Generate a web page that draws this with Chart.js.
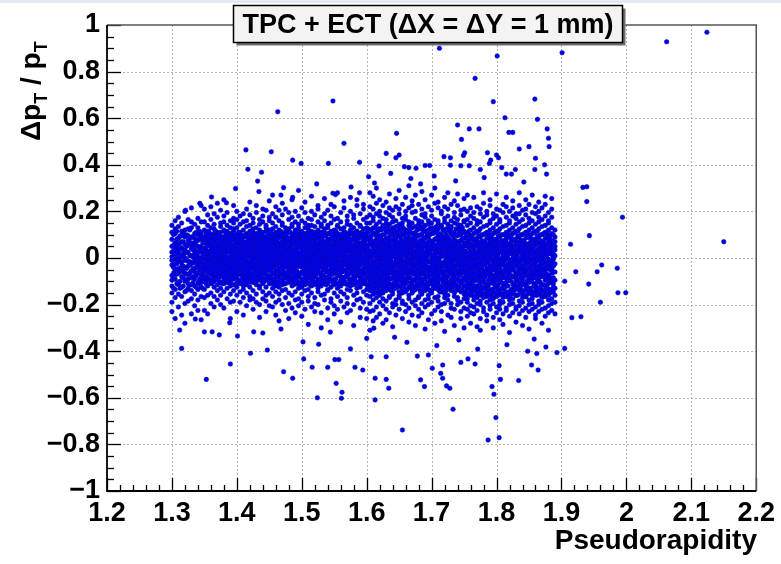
<!DOCTYPE html>
<html>
<head>
<meta charset="utf-8">
<title>TPC + ECT momentum resolution</title>
<script src="https://cdn.jsdelivr.net/npm/chart.js@4.4.1/dist/chart.umd.min.js"></script>
<style>
  html, body { margin: 0; padding: 0; background: #ffffff; }
  #wrap { width: 781px; height: 564px; position: relative; }
  canvas { display: block; }
</style>
</head>
<body>
<div id="wrap"><canvas id="chart" width="781" height="564"></canvas></div>
<script>
// Axis ticks
const xTickValues = [1.2, 1.3, 1.4, 1.5, 1.6, 1.7, 1.8, 1.9, 2.0, 2.1, 2.2];
const yTickValues = [-1, -0.8, -0.6, -0.4, -0.2, 0, 0.2, 0.4, 0.6, 0.8, 1];

// Tracks in the band: each row is [pseudorapidity, dpT/pT in percent ...]
const bandA = [
  [1.300, 8,2.5,-3,-7.5,-12,-1,5,11,-15,-19,0.5,-9.5,14,-23],
  [1.305, 10.5,4,-0.5,-5,-9,-13.5,6.5,1.5,-2.5,-17,-26,12.5,-7],
  [1.310, 6,3,-4.5,-10.5,-15.5,8.5,-1.5,-6.5,13.5,-21,-11.5,17.5,0],
  [1.315, 11.5,7,-2,-5.5,-8,-12.5,1,4.5,-16.5,-24.5,15,-3.5,9.5],
  [1.320, 12,9,3.5,-4,-6.5,-10,-14.5,0,6,-1,-19.5,20,-28,2],
  [1.325, 9.5,5.5,-1.5,-7,-11,2.5,7.5,-3.5,-13,-18.5,16.5,-9,12.5],
  [1.330, 13,6.5,1,-2.5,-8.5,-14,4,-5.5,9,-17.5,21.5,-24,-11.5,15.5],
  [1.335, 8.5,3.5,-2,-6,-12,2,10.5,-4.5,-15.5,14.5,-20.5,-0.5,-9,6.5],
  [1.340, 10,7.5,2.5,-3,-10.5,-6.5,5,-1,13,-13.5,-18,17,-22.5,0.5],
  [1.345, 11,5,0,-4,-8.5,3,8,-7,-12.5,-2,15.5,-16.5,-26.5,9.5,22.5,-10.5]
];
const bandB = [
  [1.350, 9,6.5,4,1.5,-0.5,-2.5,-5,-7.5,-9,8,2.5,-4,-10,12,-13.5,15.5,-17,21,-22.5,3],
  [1.355, 10,7,3,0.5,-1.5,-3.5,-6,-8.5,5.5,9.5,-2,-9.5,11.5,-12,14,-16,18.5,-24,1,-5],
  [1.360, 8.5,5,2,-1,-3,-4.5,-7,-9.5,6,10,0,3.5,-11,13,-15,16.5,-19.5,22,-6.5,7.5],
  [1.365, 10.5,7.5,4.5,1,-2,-4,-6.5,-8,-10,2.5,6,-1,12.5,-12.5,14.5,-16.5,-21,19,8.5,-5.5],
  [1.370, 9.5,6,3.5,0,-1,-3.5,-5.5,-7,-9,1.5,8,4.5,-11.5,11,-14,17.5,-18,23.5,-2.5,5],
  [1.375, 11,8.5,5,2,-0.5,-2.5,-4.5,-8,-10.5,3,6.5,0.5,13.5,-13,-16,15,-20,20.5,-6,9],
  [1.380, 7.5,4,1,-1.5,-3,-5,-7.5,-9.5,9,2,5.5,-0.5,12,-11,15.5,-14.5,18,-21.5,25,-6],
  [1.385, 10,7,4,2.5,-1,-2,-5.5,-6.5,-8.5,0,5,-3.5,11.5,-10.5,14,-13,-17.5,19.5,8.5,-9.5],
  [1.390, 9,6.5,2.5,0.5,-2,-4,-6,-8,-10,3.5,7.5,-1.5,10.5,-12,13,-15.5,16,-19,-26,4.5],
  [1.395, 11.5,8,5.5,1.5,-0.5,-3,-5,-7,-9,3,9.5,-1.5,12.5,-11.5,15,-14,17,-18.5,22.5,-4.5],
  [1.400, 8.5,6,3.5,0,-1.5,-3.5,-6.5,-8.5,-10.5,2,5,10,-2.5,13,-12.5,16.5,-16,20,-23,-5],
  [1.405, 10,7.5,4,1,-0.5,-2.5,-5,-7,-9.5,2.5,6,8.5,-3.5,11,-11,14.5,-14.5,-19,18,-1],
  [1.410, 9,5.5,2,-1,-2.5,-4.5,-6,-8,-10,3.5,7,0.5,12,-12,15.5,-13.5,19,-17,-24.5,4.5],
  [1.415, 10.5,7,4.5,1.5,-1,-3,-5.5,-7.5,-9,2.5,5.5,9,-2,13.5,-11.5,16,-15,21,-20.5,-6],
  [1.420, 8,6,3,0.5,-1.5,-4,-6.5,-8.5,-10.5,1.5,4.5,9.5,-2.5,11.5,-12.5,14,-16.5,18.5,-18,24],
  [1.425, 11,8,5,2,-0.5,-2,-4.5,-7,-9,3.5,6.5,-3.5,12.5,-10.5,15,-14,-17.5,17,-22,0],
  [1.430, 9.5,6.5,2.5,0,-2,-3.5,-5.5,-8,-10,1,4,8,-1,10.5,-11.5,13,-15.5,19.5,-19,22.5],
  [1.435, 10,7.5,4,1.5,-1,-3,-6,-7.5,-9.5,2.5,5,-4.5,12,-12,14.5,-13,16.5,-20,-25.5,8.5],
  [1.440, 8.5,5,2,-0.5,-2.5,-4.5,-6.5,-8.5,-10.5,3,6,9.5,0.5,11,-11,15.5,-14.5,18,-17.5,21],
  [1.445, 11.5,7,4.5,1,-1.5,-3.5,-5,-7,-9,2,5.5,8.5,-2,13,-12.5,14,-16,20.5,-18.5,-23],
  [1.450, 9,6,3.5,0.5,-1,-2.5,-5.5,-8,-10,2.5,7,-4,12,-11,16,-15,17.5,-20.5,24.5,-1.5]
];
const bandC = [
  [1.455, 10,7.5,4,1,-1.5,-4,-6.5,-9,-11,2.5,5.5,8.5,-2.5,12.5,-13,15,-16.5,19,-21,27],
  [1.460, 11,8,5.5,2,-0.5,-3,-5.5,-7.5,-10,3.5,9.5,0,-12,13.5,-14.5,17.5,-19,22,-24.5,6.5],
  [1.465, 9,6,3,0.5,-2,-4.5,-6,-8.5,-10.5,1.5,4.5,10.5,-1,12,-12.5,16,-15.5,20.5,-18,-27],
  [1.470, 10.5,7,4.5,1.5,-1,-3.5,-5,-7,-9.5,2.5,6,8.5,-2.5,14,-11.5,15,-14,18.5,-20,23.5],
  [1.475, 8.5,6.5,3.5,0,-1.5,-4,-6.5,-8,-11,2,5,10,-3,11.5,-13.5,13,-17,21,-22.5,-0.5],
  [1.480, 11.5,8.5,5,2.5,-0.5,-2.5,-5.5,-7.5,-9,1,4,7,-1.5,12.5,-10.5,16.5,-15,19.5,-19.5,-26],
  [1.485, 10,7,3,0.5,-2,-4.5,-6,-8.5,-10,2,5.5,9,-3.5,13.5,-12,14.5,-16,17.5,-21.5,25],
  [1.490, 9.5,6,4,1,-1,-3,-5,-7,-9.5,3,7.5,11,-2,12,-11,15.5,-14.5,-18,20,-23.5],
  [1.495, 11,8,5.5,2,-0.5,-3.5,-6.5,-8,-11.5,1.5,4.5,9.5,-1.5,14.5,-13,13,-17.5,18,-20.5,29],
  [1.500, 8,5.5,2.5,0,-2.5,-4,-6,-9,-10.5,3.5,6.5,10,-3,11.5,-12.5,16,-15.5,21.5,-19,-25],
  [1.505, 10.5,7.5,4.5,1.5,-1,-2.5,-5.5,-7.5,-9.5,2.5,5,8.5,-1.5,13,-11.5,15,-14,19.5,-22,24],
  [1.510, 9,6.5,3.5,0.5,-1.5,-4.5,-6.5,-8.5,-11,1,4,11,-3.5,12.5,-13.5,14,-16.5,17,-18.5,-28.5],
  [1.515, 11.5,8,5,2,-0.5,-3,-5,-7,-10,3,6,9.5,-2,14,-12,16.5,-15,20,-21,26.5],
  [1.520, 10,7,4,1,-2,-4,-6,-8,-10.5,2,5.5,8,-1,11,-11.5,13.5,-17,18.5,-19.5,-23],
  [1.525, 8.5,6,3,-0.5,-1,-3.5,-5.5,-9,-11.5,1.5,4.5,10.5,-2.5,12,-13,15.5,-14.5,21,-20,22.5],
  [1.530, 11,8.5,5.5,2.5,0,-2.5,-6.5,-7.5,-9.5,3.5,7,9,-1.5,13.5,-12,14.5,-16,17.5,-23.5,-30],
  [1.535, 9.5,6.5,3.5,1,-1.5,-4,-5,-8,-10,2,5,11,-3,12.5,-11,16,-15.5,19,-18,25.5],
  [1.540, 10.5,7.5,4,1.5,-0.5,-3,-6,-8.5,-11,2.5,6,8,-2,14,-13.5,13,-14,20.5,-21.5,-26.5],
  [1.545, 8,5.5,2.5,0,-2,-4.5,-6.5,-7,-9.5,3,4.5,10,-1,11.5,-12.5,15,-17.5,18,-19,23],
  [1.550, 11.5,8,5,2,-1,-3.5,-5.5,-9,-10.5,1.5,6.5,9.5,-2.5,12,-11.5,16.5,-15,22,-20.5,-24],
  [1.555, 9,7,4.5,1,-1.5,-2.5,-5,-7.5,-11,3.5,5.5,10.5,-3.5,13.5,-13,14,-16.5,17,-22,28],
  [1.560, 10,6,3,0.5,-0.5,-4,-6,-8,-9.5,2,7.5,8.5,-1.5,12.5,-12,15.5,-14.5,19.5,-18.5,-27.5],
  [1.565, 11,8.5,5.5,2.5,-1,-3,-5.5,-8.5,-10,1,4,9,-2,11,-11,13,-15.5,21.5,-21,24.5],
  [1.570, 8.5,6.5,3.5,0,-2,-4.5,-6.5,-7,-11.5,3,5,10,-3,14.5,-13.5,16,-17,18,-19.5,-23.5],
  [1.575, 10.5,7,4,1.5,-0.5,-3.5,-5,-9,-10.5,2.5,6,11.5,-1,12,-12,14,-14,20,-22.5,26],
  [1.580, 9.5,5.5,2.5,0.5,-1.5,-2.5,-6,-8,-9,1.5,4.5,8,-3.5,13,-11.5,17,-16,18.5,-20,-29],
  [1.585, 11.5,8,5,2,-1,-4,-5.5,-7.5,-11,3,7,9.5,-2.5,11.5,-13,15,-15,22.5,-18,25],
  [1.590, 9,6.5,3,1,-0.5,-3,-6.5,-8.5,-10,2,5.5,10.5,-1.5,14,-12.5,13.5,-17.5,19,-21.5,-25.5],
  [1.595, 10,7.5,4.5,0,-2,-4.5,-5,-7,-9.5,3.5,6,8.5,-2,12.5,-11,16.5,-14.5,21,-19,23],
  [1.600, 11,8.5,5.5,2.5,-1,-3.5,-6,-8,-11.5,1,4,9,-3,13,-13.5,15,-16,17.5,-22,-26]
];
const bandD = [
  [1.605, 12,9,6,3,0.5,-2,-4.5,-7,-9.5,-12,-14,1.5,7.5,-5.5,15,-16.5,18.5,-19.5,22,-23,28,-31],
  [1.610, 13,10.5,7,4.5,1,-1.5,-3.5,-6,-8.5,-11,-13.5,2.5,5.5,-2.5,16,-15.5,17.5,-18,21,-22.5,26.5,-27],
  [1.615, 11,8,5,2,-0.5,-3,-5,-8,-10,-12.5,3.5,9.5,-6.5,14.5,-15,19,-17,23.5,-21,-25.5,30],
  [1.620, 12.5,9.5,6.5,3.5,0,-2,-4,-7.5,-9,-11.5,-14.5,1,4.5,-5.5,15.5,-16,18,-19,20,-24,25],
  [1.625, 13.5,10,7.5,4,1.5,-1,-3,-5.5,-8,-10.5,-13,2.5,6,-6.5,14,-15,17,-17.5,22.5,-20.5,-28],
  [1.630, 11.5,8.5,5.5,2.5,-0.5,-2.5,-4.5,-7,-9.5,-12,1,3.5,-1.5,16.5,-14,15,-18.5,19.5,-22,24,-26.5],
  [1.635, 12,9,6,3,0.5,-1.5,-5,-6.5,-9,-11,-13.5,2,7,-3.5,14.5,-16.5,18.5,-17,21.5,-23.5,27.5],
  [1.640, 13,10.5,7.5,4.5,1,-2,-3.5,-6,-8.5,-12.5,-14,3,5,-5,15.5,-15.5,17.5,-19.5,20.5,-21,-29.5],
  [1.645, 11,8,4.5,2,-1,-3,-5.5,-7.5,-10,-11.5,1.5,6.5,-2.5,13.5,-13,16,-18,22,-20,25.5,-24.5],
  [1.650, 12.5,9.5,6.5,3.5,0,-2.5,-4,-7,-9,-12,-14.5,2.5,5.5,-6,14.5,-16,19,-17,21,-22,29],
  [1.655, 13.5,10,7,4,1.5,-1,-3.5,-5.5,-8,-10.5,-13,3,6,-4.5,15,-15,17,-18.5,23,-19.5,-26],
  [1.660, 11.5,8.5,5,2.5,0.5,-2,-4.5,-6.5,-9.5,-11,-13.5,1,4,-3,16.5,-14.5,18,-20,20,-23,26],
  [1.665, 12,9,6,3,-0.5,-1.5,-5,-7.5,-8.5,-12.5,2,7.5,-6,14,-16,15.5,-17.5,21.5,-21.5,-27.5,31],
  [1.670, 13,10.5,7,4.5,1,-2.5,-3.5,-6,-10,-11.5,-14,3.5,5.5,-1,15,-15,19.5,-19,22.5,-24.5,24.5],
  [1.675, 11,8,5.5,2,0,-3,-4,-7,-9,-12,1.5,6.5,-5.5,13.5,-13.5,17,-18,20,-20.5,27,-29],
  [1.680, 12.5,9.5,6,3.5,1,-1,-5,-6.5,-8.5,-11,-13,2.5,4.5,-2.5,16,-16.5,14.5,-17,23,-22,-25],
  [1.685, 13.5,10,7.5,4,0.5,-2,-3.5,-5.5,-9.5,-10.5,-14.5,3,5,-6.5,15.5,-15.5,18.5,-19.5,21,-23.5,28.5],
  [1.690, 11.5,8.5,5,2.5,-0.5,-2.5,-4.5,-7.5,-9,-12.5,1,6,-3,14,-14,17.5,-18,19,-21,25,-30.5],
  [1.695, 12,9,6.5,3,1.5,-1.5,-5,-6,-8,-11.5,-13.5,2,7,-4,14.5,-16,16,-17.5,22,-20,-26.5],
  [1.700, 13,10.5,7,4.5,0,-2,-3,-7,-10,-11,-14,3.5,5.5,-5.5,15,-15,18,-19,20.5,-24,27],
  [1.705, 11,8,5.5,2,1,-3,-4.5,-6.5,-9.5,-12,1.5,4,-1.5,13,-13,16.5,-17,23.5,-22.5,-28,30],
  [1.710, 12.5,9.5,6,3.5,-0.5,-1,-5.5,-7.5,-8.5,-10.5,-13.5,2.5,7.5,-3.5,16,-16.5,15,-18.5,21.5,-21,24],
  [1.715, 13.5,10,7.5,4,0.5,-2.5,-4,-6,-9,-12.5,-14.5,3,5,-6,14,-14.5,19,-20,20,-23,-27],
  [1.720, 11.5,8.5,5,2.5,1.5,-1.5,-3.5,-7,-10,-11.5,1,6.5,-2,15.5,-15.5,17,-17,22,-19.5,26,-31.5],
  [1.725, 12,9,6.5,3,0,-2,-5,-5.5,-8,-11,-13,2,4.5,-4.5,14.5,-16,18,-18,21,-24.5,28],
  [1.730, 13,10.5,7,4.5,1,-3,-4.5,-6.5,-9.5,-12,-14,3.5,6,-1,13.5,-13.5,16,-19.5,23,-21.5,-25.5],
  [1.735, 11,8,5.5,2,-0.5,-1,-3.5,-7.5,-8.5,-10.5,1.5,5,-6.5,15,-15,17.5,-16.5,19.5,-22,24.5,-29],
  [1.740, 12.5,9.5,6,3.5,0.5,-2.5,-5.5,-6,-9,-12.5,-13.5,2.5,7,-3,16.5,-17,14.5,-18,22.5,-20,27.5],
  [1.745, 13.5,10,7.5,4,1.5,-1.5,-4,-7,-10,-11,-14.5,3,4.5,-5,14,-14,18.5,-19,20.5,-23,-26],
  [1.750, 11.5,8.5,5,2.5,0,-2,-3,-5.5,-8.5,-12,1,6.5,-4,15.5,-15.5,16,-17.5,21,-21.5,25.5,-30]
];
const bandE = [
  [1.755, 11,8,5,2,-0.5,-3,-5.5,-8,-10.5,-13,-15.5,1,6.5,-7,14,-17.5,16.5,-19,-22,20,-25,27],
  [1.760, 12,9.5,6,3.5,0.5,-2,-4.5,-7,-9,-11.5,-14,2.5,4.5,-6,15,-16,18,-20.5,-23.5,21.5,-28],
  [1.765, 10.5,7.5,4,1.5,-1.5,-3.5,-6.5,-8.5,-12,-13.5,-16.5,3,5.5,-10,13,-18,17,-21,19.5,-24,26],
  [1.770, 11.5,8.5,5.5,2.5,0,-2.5,-5,-7.5,-9.5,-12.5,-15,1.5,7,-4,14.5,-17,16,-19.5,-22.5,22,-29.5],
  [1.775, 12.5,9,6.5,3,-1,-4,-6,-8,-11,-14.5,-16,2,4,-2,15.5,-18.5,19,-20,21,-26,-31],
  [1.780, 10,7,4.5,1,-0.5,-3,-5.5,-9,-10,-13,-15.5,3.5,6,-7.5,13.5,-17,17.5,-21.5,-23,23.5,28],
  [1.785, 11,8.5,5,2.5,-1.5,-2,-4.5,-7,-11.5,-12,-14.5,1,5.5,-6,14,-16.5,18.5,-19,20,-24.5,-27],
  [1.790, 12,9.5,6,3.5,0.5,-3.5,-6.5,-8.5,-10.5,-14,-16,2,7.5,-5,15,-18,16,-20.5,-22,22.5,25],
  [1.795, 10.5,7.5,4,1.5,-1,-2.5,-5,-7.5,-9,-13.5,-15,3,5,-11,13,-17.5,17,-19.5,19,-25.5,-30],
  [1.800, 11.5,8,5.5,2,0,-4,-6,-8,-12,-12.5,-16.5,1.5,6.5,-3,14.5,-16,18,-21,-23.5,21,27.5],
  [1.805, 12.5,9,6.5,3,-0.5,-3,-4.5,-9.5,-10,-14,-15.5,2.5,4.5,-7,15.5,-18.5,16.5,-20,20.5,-22,-26.5],
  [1.810, 10,7,4.5,1,-1.5,-2,-5.5,-7,-11,-13,-16,3.5,6,-8.5,13.5,-17,19.5,-19,-24,23,-28.5],
  [1.815, 11,8.5,5,2.5,0.5,-3.5,-6,-8.5,-10.5,-12,-14.5,1,7,-4.5,14,-16.5,17.5,-21.5,22,-22.5,26],
  [1.820, 12,9.5,6,3.5,-1,-2.5,-4,-7.5,-9.5,-14.5,-16.5,2,5.5,-6,15,-18,16,-20,-25,20,-32],
  [1.825, 10.5,7.5,4,1.5,0,-4,-5,-8,-11.5,-13.5,-15,3,4,-2,13,-17.5,18,-19.5,21.5,-23.5,24.5],
  [1.830, 11.5,8,5.5,2,-0.5,-3,-6.5,-9,-10,-12.5,-16,1.5,6.5,-7.5,14.5,-16,17,-21,-22,19,-27.5],
  [1.835, 12.5,9,6.5,3,-1.5,-2,-5.5,-7,-12,-13,-14,2.5,5,-4,15.5,-18.5,19,-20.5,22.5,-24,28],
  [1.840, 10,7,4.5,1,0.5,-3.5,-4.5,-8.5,-9.5,-14,-15.5,3.5,7.5,-6.5,13.5,-17,16.5,-19,-22.5,20.5,-29],
  [1.845, 11,8.5,5,2.5,-1,-2.5,-6,-7.5,-11,-12,-16.5,1,4.5,-5,14,-16.5,18.5,-21.5,21,-25.5,25],
  [1.850, 12,9.5,6,3.5,0,-4,-5,-9,-10.5,-13.5,-15,2,6,-7,15,-18,17,-20,-23,23,-30.5],
  [1.855, 10.5,7.5,4,1.5,-0.5,-3,-6.5,-8,-9,-14.5,-16,3,5.5,-3,13,-17.5,16,-19.5,19.5,-22,27],
  [1.860, 11.5,8,5.5,2,-1.5,-2,-4.5,-7,-12,-12.5,-14.5,1.5,7,-5.5,14.5,-16,19,-21,-24.5,22,-26],
  [1.865, 12.5,9,6.5,3,0.5,-3.5,-5.5,-9.5,-10,-13,-15.5,2.5,4,-8,15.5,-18.5,17.5,-20,20,-23,24],
  [1.870, 10,7,4.5,1,-1,-2.5,-6,-8,-11.5,-14,-16.5,3.5,6.5,-4.5,13.5,-17,16.5,-19,-22,21.5,-28],
  [1.875, 11,8.5,5,2.5,0,-4,-5,-7.5,-9.5,-12,-15,1,5,-6,14,-16.5,18,-21.5,23,-25,26.5],
  [1.880, 12,9.5,6,3.5,-0.5,-3,-4.5,-8.5,-11,-13.5,-16,2,7.5,-7.5,15,-18,16,-20.5,-23.5,19.5,-31],
  [1.885, 10.5,7.5,4,1.5,-1.5,-2,-6.5,-9,-10.5,-14.5,-14,3,5.5,-5,13,-17.5,17.5,-19.5,21,-22.5,25.5],
  [1.890, 9,5,1,-2.5,-6,-9.5,-13,3.5,-16,12,-19,-24,7]
];

// Additional tracks in the band core, between the rows above
const coreA = [
  [1.3025, 5.5,0,-4,-9,10,-13,3,-6.5],
  [1.3075, 8,2,-2.5,-7,-11,4.5,-0.5,11.5],
  [1.3125, 9.5,4,-1,-5.5,-10,1.5,-13,6.5],
  [1.3175, 7,0.5,-3.5,-8.5,3,-12,10.5,-6],
  [1.3225, 10,5,-0.5,-4.5,-9.5,2.5,-7,-14],
  [1.3275, 6,1,-3,-6.5,-11.5,8.5,-1.5,12],
  [1.3325, 9,3.5,-2,-8,-10.5,0.5,5,-4.5],
  [1.3375, 11,5.5,1.5,-4,-7.5,-12.5,7.5,-1],
  [1.3425, 8.5,2.5,-1.5,-5,-9,4,-11,11.5],
  [1.3475, 6.5,1,-3,-6,-10,9,3.5,-13]
];
const coreB = [
  [1.3525, 8,4.5,0.5,-2,-5.5,-8,10.5,2,-3.5,6.5,-11],
  [1.3575, 9,5.5,2.5,-0.5,-4,-6.5,-9.5,7,0,-2.5,11],
  [1.3625, 7,3,0,-2.5,-5,-8.5,9.5,5,-1.5,-10.5,1.5],
  [1.3675, 8.5,4.5,1.5,-1,-3.5,-7,-9,6,3,-5.5,11.5],
  [1.3725, 10,5.5,2,-1.5,-4.5,-6,-10,7.5,0.5,-2.5,-8],
  [1.3775, 6.5,3.5,0,-3,-5.5,-7.5,9,2,-1,4.5,-11],
  [1.3825, 9.5,5,2.5,-0.5,-4,-6.5,-8.5,7,1,-2,11],
  [1.3875, 8,3,0.5,-2.5,-5,-7.5,-10.5,6,4.5,-1,10],
  [1.3925, 10.5,5.5,1.5,-1.5,-4.5,-6,-9,8,3.5,-3,-11.5],
  [1.3975, 7,4,0,-2,-5.5,-8,9.5,2.5,-1,-3.5,5.5],
  [1.4025, 9,5,2,-1,-4,-6.5,-10,7.5,0.5,-2.5,11],
  [1.4075, 8,3.5,0.5,-3,-5,-7.5,9.5,6,1.5,-1.5,-9.5],
  [1.4125, 10,6,2.5,-0.5,-4.5,-6,-8.5,4,0,-2.5,-11],
  [1.4175, 7.5,4.5,1,-2,-3.5,-7,-10,9,3,-5.5,5.5],
  [1.4225, 9.5,5,2,-1.5,-5,-8,7,0.5,-3,-9.5,11.5],
  [1.4275, 8.5,3.5,0,-2.5,-4,-6.5,-10.5,6,2.5,-1,10],
  [1.4325, 10.5,6,1.5,-0.5,-5.5,-7,-9,4.5,3,-3,8],
  [1.4375, 7,4,0.5,-2,-4.5,-8.5,9,2,-1,-6,11],
  [1.4425, 9,5.5,2.5,-1,-3.5,-6.5,-10,7.5,0,-5,3.5],
  [1.4475, 8,3,1,-2.5,-4.5,-7.5,10,5,-1,-9,6]
];
const coreC = [
  [1.4525, 9,6,2.5,0,-2.5,-5,-7.5,-10,11,4,-1,-3.5],
  [1.4575, 10,7,3.5,1,-1.5,-4,-6.5,-9,5,-0.5,-11,8.5],
  [1.4625, 8,5,1.5,-1,-3,-5.5,-8,-10.5,10.5,3,0,6.5],
  [1.4675, 9.5,6.5,4,0.5,-2,-4.5,-7,-9.5,2,-1.5,11.5,-6],
  [1.4725, 7.5,4.5,2,-0.5,-3.5,-6,-8.5,-11,10,5.5,1,-2],
  [1.4775, 10.5,7.5,3,0,-1.5,-4,-6.5,-9,5,1.5,-3,8.5],
  [1.4825, 8.5,5.5,2.5,-1,-2.5,-5,-7.5,-10,11,4,0.5,-4.5],
  [1.4875, 9,6,3.5,0.5,-2,-4.5,-6,-8.5,-11.5,2,-1,7.5],
  [1.4925, 10,7,1.5,-0.5,-3,-5.5,-8,-9.5,4.5,3,11.5,-6.5],
  [1.4975, 7,5,2,0,-1.5,-3.5,-7,-10.5,9.5,6,-2.5,1],
  [1.5025, 9.5,6.5,4,1,-2,-4,-6.5,-9,-11,2.5,-0.5,8],
  [1.5075, 8,4.5,2.5,-0.5,-3,-5,-7.5,-10,10.5,6,0.5,-1.5],
  [1.5125, 10.5,7.5,3.5,0,-1,-4.5,-6,-8.5,5,1.5,-2.5,-11.5],
  [1.5175, 8.5,5.5,1.5,-1.5,-2.5,-5.5,-8,-9.5,11,3,0.5,7],
  [1.5225, 9,6,3,0.5,-2,-3.5,-7,-10.5,4.5,-0.5,10,-5],
  [1.5275, 10,7,4.5,1,-1,-4,-6.5,-9,2,-3,8,-11],
  [1.5325, 7.5,5,2,-0.5,-2.5,-5,-7.5,-10,9.5,3.5,0,11],
  [1.5375, 9.5,6.5,3.5,0,-1.5,-4.5,-6,-8.5,5.5,1.5,-3,-11.5],
  [1.5425, 8,4.5,1,-1,-3,-5.5,-8,-9.5,10.5,6,2.5,-6.5],
  [1.5475, 10.5,7.5,3,0.5,-2,-3.5,-7,-10.5,5,-0.5,1.5,8.5],
  [1.5525, 8.5,5.5,2.5,-0.5,-2.5,-4,-6.5,-9,11.5,4,0,-5.5],
  [1.5575, 9,6,4,1,-1.5,-5,-7.5,-11,2.5,-3,10,7],
  [1.5625, 10,7,1.5,0,-3,-4.5,-6,-8.5,5,3.5,-1,-10],
  [1.5675, 7,4.5,2,-1,-2,-5.5,-8,-10.5,9,6,0.5,11],
  [1.5725, 9.5,6.5,3.5,0.5,-1.5,-3.5,-7,-9,4.5,-0.5,8,-11.5],
  [1.5775, 8,5,3,-0.5,-2.5,-5,-6.5,-10,10.5,1.5,0,-4],
  [1.5825, 10.5,7.5,4,1,-1,-4,-8,-9.5,2.5,6,-2.5,11],
  [1.5875, 8.5,5.5,1.5,0,-3,-4.5,-7,-10.5,9.5,3.5,-1.5,-6],
  [1.5925, 9,6,2.5,-1,-2,-5.5,-7.5,-8.5,11,4.5,0.5,-11],
  [1.5975, 10,7,4.5,0.5,-1.5,-3,-6,-9.5,5,2,-3.5,8]
];
const coreD = [
  [1.6025, 11,8,5,2,-1,-3.5,-6,-8.5,-11,-13,12.5,3.5,-4.5],
  [1.6075, 12,9.5,6.5,3,0,-2.5,-5,-7.5,-10,-12.5,1.5,-14,7.5],
  [1.6125, 10.5,7,4,1,-1.5,-4,-6.5,-9,-11.5,13,5.5,-2.5,-13.5],
  [1.6175, 11.5,8.5,5.5,2.5,-0.5,-3,-5.5,-8,-10.5,-13,0.5,6.5,12.5],
  [1.6225, 9.5,6,3.5,0.5,-2,-4.5,-7,-9.5,-12,12,1.5,-14.5,8],
  [1.6275, 12.5,10,7,4,1,-1,-3.5,-6,-8.5,-11,-13.5,2.5,5.5],
  [1.6325, 11,8,4.5,1.5,-0.5,-3,-5.5,-8,-10,-12.5,13.5,6,-2],
  [1.6375, 10,7.5,5,2,-1.5,-4,-6.5,-9,-11.5,-14,3.5,12,0],
  [1.6425, 12,9,6,3,0.5,-2.5,-5,-7,-10.5,-13,1,4.5,-8.5],
  [1.6475, 9.5,6.5,3.5,1,-1,-3.5,-6,-8.5,-11,11,5,-12.5,13.5],
  [1.6525, 11.5,8.5,5.5,2.5,-0.5,-2,-4.5,-7.5,-9.5,-12,-14.5,7,0.5],
  [1.6575, 12.5,10,7,4,1.5,-1.5,-4,-6.5,-9,-11.5,3,-13,5.5],
  [1.6625, 10.5,7,4.5,1.5,-1,-3,-5.5,-8,-10,-13.5,12,6,-2.5],
  [1.6675, 11,8,5,2.5,0,-2.5,-6,-8.5,-11,-12.5,13,3.5,-4.5],
  [1.6725, 9,6.5,3,0.5,-1.5,-4.5,-7,-9.5,-12,10.5,5.5,-14,1.5],
  [1.6775, 12,9.5,6.5,3.5,1,-2,-3.5,-6,-8.5,-10.5,-13,2,4.5],
  [1.6825, 10,7.5,4,1,-0.5,-3.5,-5,-7.5,-10,-12,12.5,5.5,-14.5],
  [1.6875, 11.5,8.5,5.5,2,-1,-2.5,-6.5,-9,-11.5,-13.5,0.5,7,13],
  [1.6925, 9.5,6,3.5,0,-2,-4,-5.5,-8,-10.5,11,1.5,-12.5,4.5],
  [1.6975, 12.5,10,7.5,4.5,1.5,-1.5,-4.5,-7,-9.5,-11,-14,2.5,6],
  [1.7025, 10.5,7,4,1,-0.5,-3,-5,-8.5,-10,-12.5,12,5.5,-2],
  [1.7075, 11,8.5,5,2.5,0,-2,-6,-7.5,-11,-13,13.5,3,-4],
  [1.7125, 9,6.5,3,0.5,-1.5,-4.5,-6.5,-9,-12,10.5,5,-14.5,1.5],
  [1.7175, 12,9,6,3.5,1,-2.5,-3.5,-5.5,-8,-10.5,-13.5,2,4.5],
  [1.7225, 10,7.5,4.5,1.5,-0.5,-3,-5.5,-8,-9.5,-12,12.5,6,-14],
  [1.7275, 11.5,8,5.5,2,-1,-4,-6,-7,-10.5,-13,0.5,7,13],
  [1.7325, 9.5,6,3.5,0,-2.5,-3.5,-5,-8.5,-11,11,1.5,-12.5,4],
  [1.7375, 12.5,10,7,4.5,1.5,-1,-4.5,-6.5,-9,-11.5,-14,3,5.5],
  [1.7425, 10.5,7,4,1,0,-3,-5.5,-7.5,-10,-12.5,12,6,-2],
  [1.7475, 11,8.5,5,2.5,-0.5,-2,-6,-9,-11,-13.5,13,3.5,-4.5]
];
const coreE = [
  [1.7525, 9,6,3,0.5,-2,-4.5,-7,-9.5,-12,-14.5,10.5,1.5,-16],
  [1.7575, 10,7.5,4.5,1.5,-1,-3.5,-6,-8.5,-11,-13,-15.5,5.5,11.5],
  [1.7625, 8,5,2,-0.5,-3,-5.5,-8,-10,-12.5,-15,9.5,3.5,-1.5],
  [1.7675, 11,8,5.5,2.5,0,-2,-4.5,-7,-9.5,-12,-14,6.5,-16.5],
  [1.7725, 9.5,6.5,3.5,1,-1.5,-4,-6.5,-9,-11.5,-13.5,11.5,4.5,-15],
  [1.7775, 7.5,5,2.5,-0.5,-2.5,-5,-7.5,-10,-12.5,-14.5,10,0.5,-3.5],
  [1.7825, 10.5,7,4,1.5,-1,-3,-6,-8,-11,-13,-16,5.5,2.5],
  [1.7875, 9,6,3,0,-2,-4.5,-7,-9.5,-12,-15,11,4.5,-14],
  [1.7925, 8,5.5,2,-1,-3.5,-5.5,-8.5,-10.5,-13.5,9.5,1,-16.5,6.5],
  [1.7975, 11,8,4.5,1.5,-0.5,-2.5,-5,-7.5,-10,-12.5,-15,3,5.5],
  [1.8025, 9.5,6.5,3.5,0.5,-1.5,-4,-6.5,-9,-11.5,-14,11.5,2,-16],
  [1.8075, 7.5,5,2.5,-0.5,-3,-5.5,-8,-10.5,-13,-15.5,10,4,-1.5],
  [1.8125, 10,7.5,4,1,-1,-3.5,-6,-8.5,-11,-12.5,-14.5,5.5,2.5],
  [1.8175, 9,6,3,0,-2.5,-4.5,-7,-9.5,-12,-15,11,1.5,-16.5],
  [1.8225, 8,5.5,2,-1,-3,-5,-7.5,-10,-13.5,9.5,4.5,-15.5,6.5],
  [1.8275, 11,8,5,1.5,-0.5,-2,-5.5,-8,-11,-12.5,-14,3,0.5],
  [1.8325, 9.5,6.5,3.5,0.5,-1.5,-4,-6.5,-9,-10.5,-13,-16,11.5,2],
  [1.8375, 7.5,5,2.5,-0.5,-3.5,-5.5,-8.5,-10.5,-12,-15,10,4,-1.5],
  [1.8425, 10.5,7,4,1,-1,-3,-6,-7.5,-11.5,-14,-16.5,5.5,2.5],
  [1.8475, 9,6,3,0,-2,-4.5,-7,-9.5,-12.5,-15.5,11,1.5,-13.5],
  [1.8525, 8,5.5,2,-1.5,-2.5,-5,-8,-10,-13,9.5,4.5,-15,6.5],
  [1.8575, 11,8,5,1.5,-0.5,-3.5,-5.5,-8.5,-11,-12,-14.5,3,0.5],
  [1.8625, 9.5,6.5,3.5,0.5,-1,-4,-6.5,-9,-10.5,-13.5,-16,11.5,2],
  [1.8675, 7.5,5,2.5,-0.5,-3,-5.5,-7.5,-10.5,-12.5,-15,10,4,-1.5],
  [1.8725, 10.5,7,4,1,-1.5,-2.5,-6,-8,-11.5,-14,-16.5,5.5,2.5],
  [1.8775, 9,6,3,0,-2,-4.5,-7,-9.5,-12,-15.5,11,1.5,-13],
  [1.8825, 8,5.5,2,-1,-3,-5,-8.5,-10,-13.5,9.5,4.5,-15,6.5],
  [1.8875, 10,7,4.5,1.5,-0.5,-3.5,-6,-8.5,-11,-12.5,-14.5,3,0.5]
];

// Isolated tracks away from the band: [pseudorapidity, dpT/pT]
const tailsHigh = [
  [1.463,0.628],[1.548,0.674],[1.414,0.464],[1.453,0.456],[1.565,0.492],[1.486,0.420],
  [1.499,0.406],[1.541,0.406],[1.589,0.411],[1.619,0.395],[1.630,0.449],[1.646,0.535],
  [1.645,0.430],[1.417,0.381],[1.438,0.368],[1.432,0.330],[1.434,0.285],[1.603,0.349],
  [1.637,0.363],[1.468,0.270],[1.486,0.260],[1.548,0.278],[1.552,0.272],[1.589,0.280],
  [1.343,0.235],[1.384,0.237],[1.321,0.205],[1.305,0.160],
  [1.712,0.900],[1.801,0.867],[1.901,0.881],[1.767,0.771],[1.795,0.671],[1.859,0.682],
  [1.813,0.602],[1.863,0.595],[1.740,0.571],[1.758,0.554],[1.773,0.554],[1.878,0.554],
  [1.819,0.539],[1.825,0.539],[1.880,0.514],[1.881,0.478],[1.746,0.509],[1.835,0.468],
  [1.850,0.478],[1.751,0.452],[1.749,0.440],[1.719,0.435],[1.729,0.430],[1.786,0.452],
  [1.800,0.442],[1.803,0.430],[1.791,0.420],[1.789,0.406],[1.650,0.442],[1.860,0.428],
  [1.658,0.392],[1.665,0.388],[1.676,0.385],[1.690,0.397],[1.697,0.397],[1.729,0.398],
  [1.745,0.396],[1.758,0.396],[1.775,0.380],[1.808,0.388],[1.815,0.360],[1.823,0.360],
  [1.829,0.380],[1.859,0.380],[1.877,0.360],[1.874,0.400],[1.933,0.303],[1.939,0.306],
  [1.939,0.242],[1.994,0.175],[1.943,0.096],[1.914,0.059],[2.150,0.070],[2.124,0.969],
  [2.062,0.928],
  [1.612,0.322],[1.668,0.341],[1.704,0.352],[1.737,0.331],[1.781,0.345],[1.842,0.326],
  [1.523,0.318],[1.576,0.305],[1.472,0.302],[1.398,0.298],[1.361,0.262],[1.683,0.318]
];
const tailsLow = [
  [1.962,-0.030],[1.955,-0.059],[1.922,-0.059],[1.986,-0.044],[1.942,-0.112],[1.987,-0.149],
  [1.999,-0.149],[1.905,-0.100],[1.916,-0.256],[1.930,-0.252],[1.905,-0.388],[1.893,-0.406],
  [1.960,-0.190],
  [1.655,-0.738],[1.733,-0.649],[1.787,-0.781],[1.804,-0.771],[1.799,-0.685],[1.796,-0.585],
  [1.793,-0.552],[1.806,-0.521],[1.834,-0.526],[1.683,-0.523],[1.689,-0.552],[1.714,-0.495],
  [1.717,-0.516],[1.723,-0.549],[1.728,-0.559],[1.701,-0.473],[1.717,-0.459],[1.745,-0.448],
  [1.756,-0.433],[1.767,-0.455],[1.804,-0.462],[1.854,-0.459],[1.864,-0.481],[1.678,-0.421],
  [1.695,-0.416],[1.848,-0.400],[1.862,-0.410],
  [1.353,-0.521],[1.315,-0.388],[1.312,-0.309],[1.390,-0.455],[1.421,-0.409],[1.472,-0.488],
  [1.486,-0.516],[1.524,-0.600],[1.561,-0.602],[1.562,-0.576],[1.553,-0.538],[1.613,-0.609],
  [1.613,-0.516],[1.630,-0.521],[1.634,-0.559],[1.516,-0.469],[1.540,-0.469],[1.582,-0.469],
  [1.594,-0.481],[1.503,-0.433],[1.551,-0.436],[1.557,-0.436],[1.607,-0.424],[1.630,-0.424],
  [1.447,-0.395],[1.350,-0.317],[1.362,-0.317],[1.373,-0.330],[1.401,-0.335],[1.426,-0.317],
  [1.440,-0.322],[1.502,-0.360],[1.526,-0.370],[1.575,-0.390],[1.600,-0.345],[1.643,-0.340],
  [1.662,-0.362],[1.708,-0.376],[1.742,-0.352],[1.771,-0.391],[1.816,-0.372],[1.858,-0.348],
  [1.876,-0.382],[1.611,-0.301],[1.544,-0.318],[1.468,-0.305],[1.389,-0.278],[1.336,-0.262]
];

// Build the point list for the scatter dataset
const points = [];
[bandA, bandB, bandC, bandD, bandE, coreA, coreB, coreC, coreD, coreE].forEach(band => {
  band.forEach(row => {
    const eta = row[0];
    for (let i = 1; i < row.length; i++) points.push({ x: eta, y: row[i] / 100 });
  });
});
tailsHigh.concat(tailsLow).forEach(p => points.push({ x: p[0], y: p[1] }));

const FONT = "'Liberation Sans', Arial, Helvetica, sans-serif";
const fmt = v => {
  const r = Math.round(v * 10) / 10;
  return (r < 0 ? '\u2212' : '') + String(Math.abs(r));
};

// Frame, grid, inward ticks, title box and axis titles in the ROOT style
const rootStyle = {
  id: 'rootStyle',
  beforeDraw(chart) {
    const ctx = chart.ctx;
    ctx.save();
    ctx.fillStyle = '#ffffff';
    ctx.fillRect(0, 0, chart.width, chart.height);
    ctx.fillStyle = '#e6ebf3';
    ctx.fillRect(0, 0, chart.width, 3);
    ctx.restore();
  },
  beforeDatasetsDraw(chart) {
    const { ctx, chartArea: a, scales: { x, y } } = chart;
    ctx.save();
    ctx.lineWidth = 1;
    ctx.strokeStyle = '#b4b4b4';
    ctx.setLineDash([2, 2]);
    xTickValues.slice(1, -1).forEach(v => {
      const px = Math.round(x.getPixelForValue(v)) + 0.5;
      ctx.beginPath(); ctx.moveTo(px, a.top); ctx.lineTo(px, a.bottom); ctx.stroke();
    });
    yTickValues.slice(1, -1).forEach(v => {
      const py = Math.round(y.getPixelForValue(v)) + 0.5;
      ctx.beginPath(); ctx.moveTo(a.left, py); ctx.lineTo(a.right, py); ctx.stroke();
    });
    ctx.restore();
  },
  afterDatasetsDraw(chart) {
    const { ctx, chartArea: a, scales: { x, y } } = chart;
    ctx.save();
    ctx.setLineDash([]);
    ctx.strokeStyle = '#000000';
    ctx.lineWidth = 1.3;
    // x ticks (major every 0.1, minor every 0.02)
    for (let i = 0; i <= 50; i++) {
      const v = 1.2 + i * 0.02;
      const px = Math.round(x.getPixelForValue(v)) + 0.5;
      const len = (i % 5 === 0) ? 13 : 6;
      ctx.beginPath(); ctx.moveTo(px, a.bottom); ctx.lineTo(px, a.bottom - len); ctx.stroke();
    }
    // y ticks (major every 0.2, minor every 0.05)
    for (let i = 0; i <= 40; i++) {
      const v = -1 + i * 0.05;
      const py = Math.round(y.getPixelForValue(v)) + 0.5;
      const len = (i % 4 === 0) ? 14 : 7;
      ctx.beginPath(); ctx.moveTo(a.left, py); ctx.lineTo(a.left + len, py); ctx.stroke();
    }
    // frame
    ctx.strokeStyle = '#555555';
    ctx.lineWidth = 1.5;
    ctx.beginPath();
    ctx.moveTo(a.left, a.top); ctx.lineTo(a.right, a.top); ctx.lineTo(a.right, a.bottom);
    ctx.stroke();
    ctx.strokeStyle = '#000000';
    ctx.lineWidth = 1.8;
    ctx.beginPath();
    ctx.moveTo(a.left, a.top); ctx.lineTo(a.left, a.bottom); ctx.lineTo(a.right, a.bottom);
    ctx.stroke();
    ctx.restore();
  },
  afterDraw(chart) {
    const ctx = chart.ctx;
    ctx.save();
    // title box with shadow
    const bx = 233.5, by = 5.5, bw = 389, bh = 37;
    ctx.fillStyle = '#6e6e6e';
    ctx.fillRect(bx + 3, by + 3, bw, bh);
    ctx.fillStyle = '#f3f3f3';
    ctx.fillRect(bx, by, bw, bh);
    ctx.strokeStyle = '#000000';
    ctx.lineWidth = 1.5;
    ctx.strokeRect(bx, by, bw, bh);
    ctx.fillStyle = '#000000';
    ctx.font = 'bold 27px ' + FONT;
    ctx.textAlign = 'center';
    ctx.textBaseline = 'alphabetic';
    ctx.fillText('TPC + ECT (\u0394X = \u0394Y = 1 mm)', bx + bw / 2, 33);

    // x axis title
    ctx.font = 'bold 28px ' + FONT;
    ctx.textAlign = 'right';
    ctx.fillText('Pseudorapidity', 757, 549);

    // y axis title, rotated, with subscripts
    ctx.translate(40, 141);
    ctx.rotate(-Math.PI / 2);
    ctx.textAlign = 'left';
    const parts = [
      ['\u0394p', 28, 0], ['T', 18, 7], [' / p', 28, 0], ['T', 18, 7]
    ];
    let cx = 0;
    parts.forEach(([t, size, dy]) => {
      ctx.font = 'bold ' + size + 'px ' + FONT;
      ctx.fillText(t, cx, dy);
      cx += ctx.measureText(t).width;
    });
    ctx.restore();
  }
};

new Chart(document.getElementById('chart'), {
  type: 'scatter',
  data: {
    datasets: [{
      label: 'tracks',
      data: points,
      pointRadius: 2.3,
      pointBackgroundColor: '#0000f4',
      pointBorderColor: '#0a0a90',
      pointBorderWidth: 0.5,
      pointHoverRadius: 2.3
    }]
  },
  options: {
    responsive: false,
    devicePixelRatio: 1,
    animation: false,
    events: [],
    layout: { padding: { top: 25, right: 23, left: 0, bottom: 0 } },
    plugins: { legend: { display: false }, tooltip: { enabled: false }, title: { display: false } },
    scales: {
      x: {
        type: 'linear',
        min: 1.2, max: 2.2,
        afterBuildTicks: s => { s.ticks = xTickValues.map(v => ({ value: v })); },
        afterFit: s => { s.height = 73; },
        grid: { display: false, drawTicks: false },
        border: { display: false },
        ticks: {
          autoSkip: false, maxRotation: 0, minRotation: 0, padding: 6,
          color: '#000000',
          font: { family: FONT, size: 27, weight: 'bold' },
          callback: v => fmt(v)
        }
      },
      y: {
        type: 'linear',
        min: -1, max: 1,
        afterBuildTicks: s => { s.ticks = yTickValues.map(v => ({ value: v })); },
        afterFit: s => { s.width = 107; },
        grid: { display: false, drawTicks: false },
        border: { display: false },
        ticks: {
          autoSkip: false, padding: 7,
          color: '#000000',
          font: { family: FONT, size: 27, weight: 'bold' },
          callback: v => fmt(v)
        }
      }
    }
  },
  plugins: [rootStyle]
});
</script>
</body>
</html>
